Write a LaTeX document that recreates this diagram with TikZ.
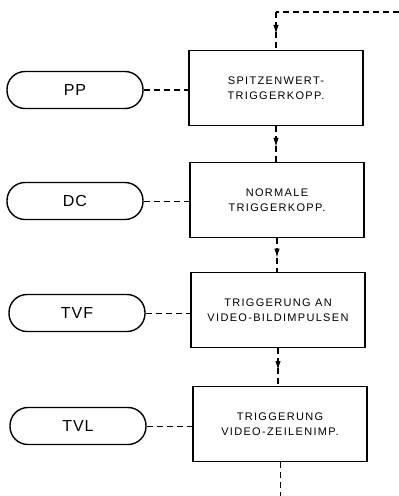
\documentclass[tikz,border=0pt]{standalone}
\usepackage{fontspec}
\setmainfont{Liberation Sans}
\usetikzlibrary{arrows.meta,calc}
\begin{document}
\begin{tikzpicture}[x=1pt,y=-1pt,
  boxnode/.style={draw,line width=1.5pt,minimum width=174pt,minimum height=75pt,inner sep=0pt,align=center,
    font=\fontsize{11}{15.5}\selectfont\addfontfeatures{LetterSpace=12}},
  pill/.style={draw,line width=1.4pt,rounded corners=18pt,minimum width=136pt,minimum height=37pt,inner sep=0pt,
    font=\fontsize{16}{18}\selectfont\addfontfeatures{LetterSpace=6}},
  link/.style={dashed,dash pattern=on 6pt off 4pt,line width=0.9pt},
  flow/.style={dashed,dash pattern=on 6pt off 4pt,line width=1.1pt},
  tip/.style={solid,line width=1.1pt,-{Latex[length=9pt,width=5.5pt]}}]
\useasboundingbox (0,0) rectangle (399,496);
\node[boxnode] (b1) at (276,88) {SPITZENWERT-\\TRIGGERKOPP.};
\node[boxnode] (b2) at (277,200) {NORMALE\\TRIGGERKOPP.};
\node[boxnode] (b3) at (278,310) {TRIGGERUNG AN\\VIDEO-BILDIMPULSEN};
\node[boxnode] (b4) at (280,424) {TRIGGERUNG\\VIDEO-ZEILENIMP.};
\node[pill] (p1) at (75,90) {PP};
\node[pill] (p2) at (75,201) {DC};
\node[pill] (p3) at (77,313) {TVF};
\node[pill] (p4) at (78,426) {TVL};
\coordinate (c1) at (276,12);
\coordinate (c2) at (399,12);
\coordinate (c3) at (280,496);
\draw[link,line width=1.2pt] (c2) -- (c1);
\draw[flow] (c1) -- (b1.north);
\draw[flow] (b1.south) -- (b1.south |- b2.north);
\draw[flow] (b2.south) -- (b2.south |- b3.north);
\draw[flow] (b3.south) -- (b3.south |- b4.north);
\draw[tip] ($(c1)!0.3!(b1.north)$) -- ($(c1)!0.58!(b1.north)$);
\draw[tip] ($(b1.south)!0.3!(b1.south |- b2.north)$) -- ($(b1.south)!0.58!(b1.south |- b2.north)$);
\draw[tip] ($(b2.south)!0.3!(b2.south |- b3.north)$) -- ($(b2.south)!0.58!(b2.south |- b3.north)$);
\draw[tip] ($(b3.south)!0.3!(b3.south |- b4.north)$) -- ($(b3.south)!0.58!(b3.south |- b4.north)$);
\draw[link] (b4.south) -- (c3);
\draw[link,line width=1.2pt] (p1.east) -- (p1.east -| b1.west);
\draw[link] (p2.east) -- (p2.east -| b2.west);
\draw[link] (p3.east) -- (p3.east -| b3.west);
\draw[link] (p4.east) -- (p4.east -| b4.west);
\end{tikzpicture}
\end{document}
